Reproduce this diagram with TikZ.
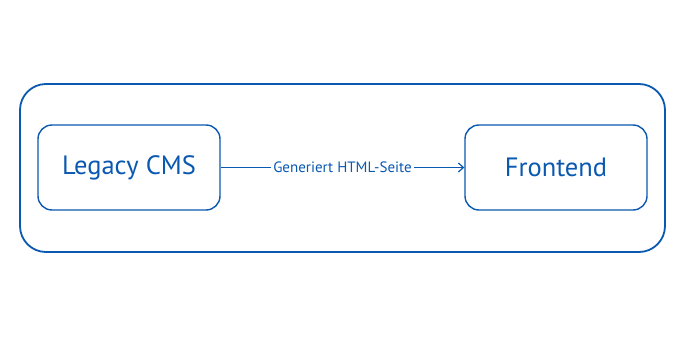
\documentclass[tikz,border=0pt]{standalone}
\usepackage{fontspec}
\setmainfont{PT Sans}
\usetikzlibrary{arrows.meta}
\definecolor{cmsblue}{HTML}{0A58B0}

\tikzset{
    box/.style={draw=cmsblue, line width=1.4pt, rounded corners=14pt,
        minimum width=182pt, minimum height=85pt, text=cmsblue,
        font=\fontsize{26.5}{30}\selectfont},
    flowlabel/.style={fill=white, text=cmsblue, inner sep=2pt,
        font=\fontsize{15}{18}\selectfont}
}

\begin{document}
\begin{tikzpicture}[x=1pt, y=-1pt]
    % Fix the page size
    \useasboundingbox (0,0) rectangle (686,343);

    % Surrounding frame
    \node[draw=cmsblue, line width=1.8pt, rounded corners=26pt,
        minimum width=645pt, minimum height=168pt] (frame) at (342.5,168) {};

    % The two systems
    \node[box] (legacy) at (129,167.5) {Legacy CMS};
    \node[box] (frontend) at (556,167.5) {Frontend};

    % Connection
    \draw[cmsblue, line width=1.2pt, -{Straight Barb[length=5pt, width=9pt]}]
        (legacy.east) -- node[flowlabel] {Generiert HTML-Seite} (frontend.west);

\end{tikzpicture}
\end{document}
